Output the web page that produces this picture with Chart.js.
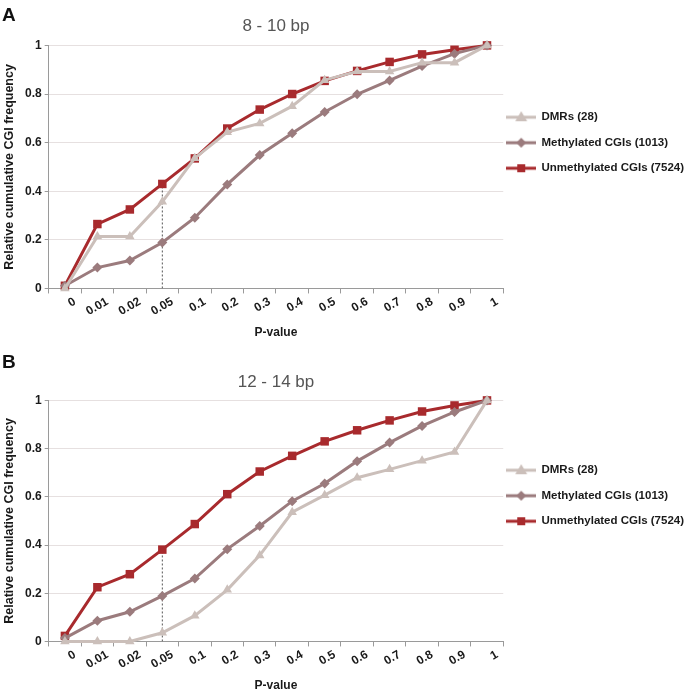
<!DOCTYPE html>
<html>
<head>
<meta charset="utf-8">
<script src="https://cdn.jsdelivr.net/npm/chart.js@4.4.0/dist/chart.umd.min.js"></script>
<style>
  body { margin: 0; width: 685px; height: 693px; background: #fff; position: relative; overflow: hidden; font-family: "Liberation Sans", Arial, sans-serif; }
  .panel { position: absolute; left: 0; width: 685px; }
  .letter { position: absolute; left: 2px; font-weight: bold; font-size: 19px; line-height: 19px; color: #111; }
</style>
</head>
<body>
<div class="panel" style="top:0;height:345px"><canvas id="chartA" width="685" height="345"></canvas></div>
<div class="letter" style="top:5px">A</div>
<div class="panel" style="top:345px;height:348px"><canvas id="chartB" width="685" height="348"></canvas></div>
<div class="letter" style="top:352px">B</div>
<script>
// p-value categories on the x axis
const pLabels = ['0', '0.01', '0.02', '0.05', '0.1', '0.2', '0.3', '0.4', '0.5', '0.6', '0.7', '0.8', '0.9', '1'];
const seriesNames = ['DMRs (28)', 'Methylated CGIs (1013)', 'Unmethylated CGIs (7524)'];

// A: 8 - 10 bp
const dmrA    = [0, 0.214, 0.214, 0.357, 0.536, 0.643, 0.679, 0.75, 0.857, 0.893, 0.893, 0.929, 0.929, 1];
const methA   = [0.011, 0.086, 0.115, 0.189, 0.291, 0.428, 0.549, 0.639, 0.726, 0.799, 0.856, 0.915, 0.966, 1];
const unmethA = [0.011, 0.265, 0.325, 0.43, 0.535, 0.658, 0.736, 0.80, 0.854, 0.895, 0.932, 0.963, 0.982, 1];

// B: 12 - 14 bp
const dmrB    = [0, 0, 0, 0.036, 0.107, 0.214, 0.357, 0.536, 0.607, 0.679, 0.714, 0.75, 0.786, 1];
const methB   = [0.014, 0.086, 0.123, 0.189, 0.261, 0.383, 0.479, 0.582, 0.655, 0.748, 0.825, 0.894, 0.952, 1];
const unmethB = [0.023, 0.225, 0.279, 0.381, 0.487, 0.611, 0.705, 0.77, 0.83, 0.876, 0.917, 0.954, 0.979, 1];

const colors = ['#cbbfba', '#9b7b7d', '#a82a2d'];
const markers = ['triangle', 'rectRot', 'rect'];
const radii = [5.5, 5, 6];
const cutoff = '0.05'; // dotted drop line

const textColor = '#1a1a1a';
const axisColor = '#9a9a9a';

// line + marker icon for the legend
function legendIcon(i) {
    const c = document.createElement('canvas');
    c.width = 30; c.height = 16;
    const ctx = c.getContext('2d');
    ctx.fillStyle = ctx.strokeStyle = colors[i];
    ctx.lineWidth = 3;
    ctx.beginPath(); ctx.moveTo(0, 8); ctx.lineTo(30, 8); ctx.stroke();
    ctx.beginPath();
    if (markers[i] === 'triangle') {
        ctx.moveTo(15, 2); ctx.lineTo(21, 12); ctx.lineTo(9, 12);
    } else if (markers[i] === 'rectRot') {
        ctx.moveTo(15, 3); ctx.lineTo(20, 8); ctx.lineTo(15, 13); ctx.lineTo(10, 8);
    } else {
        ctx.rect(11, 4, 8, 8);
    }
    ctx.closePath(); ctx.fill();
    return c;
}
const icons = [0, 1, 2].map(legendIcon);

function buildChart(id, title, series, titlePad, legendGap, bottomPad) {
    const datasets = series.map((data, i) => ({
        label: seriesNames[i],
        data: data,
        borderColor: colors[i],
        backgroundColor: colors[i],
        pointBackgroundColor: colors[i],
        pointBorderColor: colors[i],
        pointBorderWidth: 0,
        pointStyle: markers[i],
        pointRadius: radii[i],
        borderWidth: 3,
        tension: 0,
        clip: false
    }));
    datasets.push({
        label: '',
        data: [{ x: cutoff, y: 0 }, { x: cutoff, y: series[2][pLabels.indexOf(cutoff)] }],
        borderColor: '#555',
        borderWidth: 1,
        borderDash: [2, 2],
        pointRadius: 0
    });

    return new Chart(document.getElementById(id), {
        type: 'line',
        data: { labels: pLabels, datasets },
        options: {
            responsive: false,
            animation: false,
            events: [],
            layout: { padding: { left: 2, right: -9, top: 0, bottom: bottomPad } },
            plugins: {
                tooltip: { enabled: false },
                title: {
                    display: true,
                    text: title,
                    fullSize: false,
                    color: '#555',
                    font: { family: 'Liberation Sans', size: 17, weight: 'normal' },
                    padding: titlePad
                },
                legend: {
                    position: 'right',
                    align: 'start',
                    maxWidth: 220,
                    title: { display: true, text: ' ', font: { size: 11, lineHeight: legendGap + 'px' }, padding: 0 },
                    labels: {
                        usePointStyle: true,
                        pointStyleWidth: 29,
                        padding: 3.5,
                        color: textColor,
                        font: { family: 'Liberation Sans', size: 11.5, weight: 'bold', lineHeight: '22px' },
                        generateLabels: (chart) => chart.data.datasets.slice(0, 3).map((ds, i) => ({
                            text: [ds.label],
                            pointStyle: icons[i],
                            datasetIndex: i,
                            fontColor: textColor,
                            fillStyle: ds.borderColor,
                            strokeStyle: ds.borderColor,
                            lineWidth: 0,
                            hidden: false
                        }))
                    }
                }
            },
            scales: {
                x: {
                    offset: true,
                    grid: { offset: true, drawOnChartArea: false, tickLength: 5, color: axisColor },
                    border: { color: axisColor },
                    ticks: {
                        minRotation: 30, maxRotation: 30, labelOffset: 10, padding: 1,
                        color: textColor,
                        font: { family: 'Liberation Sans', size: 12, weight: 'bold' }
                    },
                    title: {
                        display: true, text: 'P-value', color: textColor,
                        font: { family: 'Liberation Sans', size: 12, weight: 'bold' },
                        padding: { top: 6, bottom: 0 }
                    }
                },
                y: {
                    min: 0, max: 1,
                    grid: { color: '#e6e0e0', tickLength: 4, tickColor: axisColor },
                    border: { color: axisColor },
                    ticks: {
                        stepSize: 0.2, padding: 3, color: textColor,
                        font: { family: 'Liberation Sans', size: 12, weight: 'bold' },
                        callback: (v) => String(Math.round(v * 10) / 10)
                    },
                    title: {
                        display: true, text: 'Relative cumulative CGI frequency', color: textColor,
                        font: { family: 'Liberation Sans', size: 12.5, weight: 'bold' },
                        padding: { top: 0, bottom: 5 }
                    }
                }
            }
        }
    });
}

buildChart('chartA', '8 - 10 bp', [dmrA, methA, unmethA], { top: 16, bottom: 9 }, 108, 5);
buildChart('chartB', '12 - 14 bp', [dmrB, methB, unmethB], { top: 27, bottom: 8 }, 116, 0);
</script>
</body>
</html>
